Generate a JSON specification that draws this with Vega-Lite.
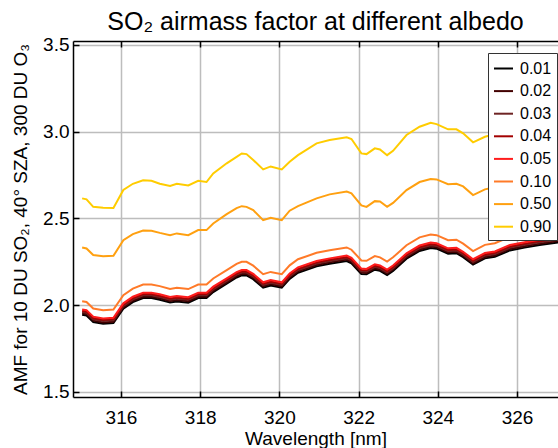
{
  "$schema": "https://vega.github.io/schema/vega-lite/v6.json",
  "width": 485,
  "height": 356,
  "autosize": {"type": "none"},
  "padding": {"left": 73, "top": 41, "right": 0, "bottom": 51},
  "background": "white",
  "title": {"text": "SO₂ airmass factor at different albedo", "fontSize": 25, "font": "Liberation Sans", "fontWeight": "normal", "color": "black", "anchor": "middle", "frame": "group", "baseline": "alphabetic", "offset": -19},
  "config": {
    "view": {"stroke": null},
    "font": "Liberation Sans",
    "axis": {
      "domainColor": "black", "domainWidth": 1.5,
      "tickColor": "black", "tickWidth": 1.5, "tickSize": -6,
      "gridColor": "#bdbdbd", "gridWidth": 1.5, "gridOpacity": 1,
      "labelFont": "Liberation Sans", "labelFontSize": 19, "labelColor": "black",
      "titleFont": "Liberation Sans", "titleFontSize": 19, "titleFontWeight": "normal", "titleColor": "black"
    }
  },
  "data": {"values": [
    {"w":315.02,"0.01":1.945,"0.02":1.953,"0.03":1.961,"0.04":1.968,"0.05":1.976,"0.10":2.023,"0.50":2.333,"0.90":2.616},
    {"w":315.13,"0.01":1.941,"0.02":1.949,"0.03":1.957,"0.04":1.964,"0.05":1.972,"0.10":2.019,"0.50":2.327,"0.90":2.610},
    {"w":315.30,"0.01":1.903,"0.02":1.911,"0.03":1.919,"0.04":1.926,"0.05":1.934,"0.10":1.981,"0.50":2.289,"0.90":2.567},
    {"w":315.55,"0.01":1.893,"0.02":1.901,"0.03":1.909,"0.04":1.916,"0.05":1.924,"0.10":1.971,"0.50":2.283,"0.90":2.562},
    {"w":315.81,"0.01":1.897,"0.02":1.905,"0.03":1.913,"0.04":1.920,"0.05":1.928,"0.10":1.975,"0.50":2.285,"0.90":2.560},
    {"w":316.06,"0.01":1.980,"0.02":1.988,"0.03":1.996,"0.04":2.003,"0.05":2.011,"0.10":2.058,"0.50":2.375,"0.90":2.664},
    {"w":316.30,"0.01":2.018,"0.02":2.026,"0.03":2.034,"0.04":2.041,"0.05":2.049,"0.10":2.096,"0.50":2.410,"0.90":2.700},
    {"w":316.56,"0.01":2.041,"0.02":2.049,"0.03":2.057,"0.04":2.064,"0.05":2.072,"0.10":2.119,"0.50":2.430,"0.90":2.720},
    {"w":316.77,"0.01":2.041,"0.02":2.049,"0.03":2.057,"0.04":2.064,"0.05":2.072,"0.10":2.119,"0.50":2.429,"0.90":2.717},
    {"w":316.98,"0.01":2.032,"0.02":2.040,"0.03":2.048,"0.04":2.055,"0.05":2.063,"0.10":2.110,"0.50":2.417,"0.90":2.700},
    {"w":317.24,"0.01":2.016,"0.02":2.024,"0.03":2.032,"0.04":2.039,"0.05":2.047,"0.10":2.094,"0.50":2.404,"0.90":2.688},
    {"w":317.41,"0.01":2.022,"0.02":2.030,"0.03":2.038,"0.04":2.045,"0.05":2.053,"0.10":2.100,"0.50":2.414,"0.90":2.700},
    {"w":317.70,"0.01":2.015,"0.02":2.023,"0.03":2.031,"0.04":2.038,"0.05":2.046,"0.10":2.093,"0.50":2.404,"0.90":2.690},
    {"w":317.95,"0.01":2.041,"0.02":2.049,"0.03":2.057,"0.04":2.064,"0.05":2.072,"0.10":2.119,"0.50":2.433,"0.90":2.717},
    {"w":318.16,"0.01":2.041,"0.02":2.049,"0.03":2.057,"0.04":2.064,"0.05":2.072,"0.10":2.119,"0.50":2.433,"0.90":2.710},
    {"w":318.33,"0.01":2.076,"0.02":2.084,"0.03":2.092,"0.04":2.099,"0.05":2.107,"0.10":2.154,"0.50":2.471,"0.90":2.760},
    {"w":318.67,"0.01":2.124,"0.02":2.132,"0.03":2.140,"0.04":2.147,"0.05":2.155,"0.10":2.202,"0.50":2.525,"0.90":2.818},
    {"w":318.92,"0.01":2.160,"0.02":2.168,"0.03":2.176,"0.04":2.183,"0.05":2.191,"0.10":2.238,"0.50":2.560,"0.90":2.855},
    {"w":319.05,"0.01":2.172,"0.02":2.180,"0.03":2.188,"0.04":2.195,"0.05":2.203,"0.10":2.250,"0.50":2.571,"0.90":2.875},
    {"w":319.17,"0.01":2.172,"0.02":2.180,"0.03":2.188,"0.04":2.195,"0.05":2.203,"0.10":2.250,"0.50":2.567,"0.90":2.871},
    {"w":319.34,"0.01":2.150,"0.02":2.158,"0.03":2.166,"0.04":2.173,"0.05":2.181,"0.10":2.228,"0.50":2.548,"0.90":2.837},
    {"w":319.59,"0.01":2.101,"0.02":2.109,"0.03":2.117,"0.04":2.124,"0.05":2.132,"0.10":2.179,"0.50":2.490,"0.90":2.783},
    {"w":319.78,"0.01":2.114,"0.02":2.122,"0.03":2.130,"0.04":2.137,"0.05":2.145,"0.10":2.192,"0.50":2.504,"0.90":2.800},
    {"w":320.06,"0.01":2.101,"0.02":2.109,"0.03":2.117,"0.04":2.124,"0.05":2.132,"0.10":2.179,"0.50":2.490,"0.90":2.783},
    {"w":320.26,"0.01":2.152,"0.02":2.160,"0.03":2.168,"0.04":2.175,"0.05":2.183,"0.10":2.230,"0.50":2.545,"0.90":2.827},
    {"w":320.47,"0.01":2.187,"0.02":2.195,"0.03":2.203,"0.04":2.210,"0.05":2.218,"0.10":2.265,"0.50":2.571,"0.90":2.865},
    {"w":320.94,"0.01":2.224,"0.02":2.232,"0.03":2.240,"0.04":2.247,"0.05":2.255,"0.10":2.302,"0.50":2.616,"0.90":2.933},
    {"w":321.27,"0.01":2.239,"0.02":2.247,"0.03":2.255,"0.04":2.262,"0.05":2.270,"0.10":2.317,"0.50":2.639,"0.90":2.952},
    {"w":321.70,"0.01":2.255,"0.02":2.263,"0.03":2.271,"0.04":2.278,"0.05":2.286,"0.10":2.333,"0.50":2.655,"0.90":2.968},
    {"w":321.82,"0.01":2.242,"0.02":2.250,"0.03":2.258,"0.04":2.265,"0.05":2.273,"0.10":2.320,"0.50":2.645,"0.90":2.958},
    {"w":322.07,"0.01":2.180,"0.02":2.188,"0.03":2.196,"0.04":2.203,"0.05":2.211,"0.10":2.258,"0.50":2.575,"0.90":2.875},
    {"w":322.20,"0.01":2.178,"0.02":2.186,"0.03":2.194,"0.04":2.201,"0.05":2.209,"0.10":2.256,"0.50":2.567,"0.90":2.871},
    {"w":322.41,"0.01":2.205,"0.02":2.213,"0.03":2.221,"0.04":2.228,"0.05":2.236,"0.10":2.283,"0.50":2.600,"0.90":2.904},
    {"w":322.54,"0.01":2.198,"0.02":2.206,"0.03":2.214,"0.04":2.221,"0.05":2.229,"0.10":2.276,"0.50":2.598,"0.90":2.898},
    {"w":322.72,"0.01":2.174,"0.02":2.182,"0.03":2.190,"0.04":2.197,"0.05":2.205,"0.10":2.252,"0.50":2.567,"0.90":2.865},
    {"w":322.87,"0.01":2.198,"0.02":2.206,"0.03":2.214,"0.04":2.221,"0.05":2.229,"0.10":2.276,"0.50":2.590,"0.90":2.890},
    {"w":323.21,"0.01":2.268,"0.02":2.276,"0.03":2.284,"0.04":2.291,"0.05":2.299,"0.10":2.346,"0.50":2.664,"0.90":2.981},
    {"w":323.54,"0.01":2.313,"0.02":2.321,"0.03":2.329,"0.04":2.336,"0.05":2.344,"0.10":2.391,"0.50":2.710,"0.90":3.029},
    {"w":323.82,"0.01":2.330,"0.02":2.338,"0.03":2.346,"0.04":2.353,"0.05":2.361,"0.10":2.408,"0.50":2.727,"0.90":3.052},
    {"w":323.97,"0.01":2.326,"0.02":2.334,"0.03":2.342,"0.04":2.349,"0.05":2.357,"0.10":2.404,"0.50":2.725,"0.90":3.044},
    {"w":324.26,"0.01":2.297,"0.02":2.305,"0.03":2.313,"0.04":2.320,"0.05":2.328,"0.10":2.375,"0.50":2.698,"0.90":3.014},
    {"w":324.47,"0.01":2.300,"0.02":2.308,"0.03":2.316,"0.04":2.323,"0.05":2.331,"0.10":2.378,"0.50":2.700,"0.90":3.014},
    {"w":324.64,"0.01":2.277,"0.02":2.285,"0.03":2.293,"0.04":2.300,"0.05":2.308,"0.10":2.355,"0.50":2.685,"0.90":2.991},
    {"w":324.89,"0.01":2.234,"0.02":2.242,"0.03":2.250,"0.04":2.257,"0.05":2.265,"0.10":2.312,"0.50":2.635,"0.90":2.939},
    {"w":325.19,"0.01":2.270,"0.02":2.278,"0.03":2.286,"0.04":2.293,"0.05":2.301,"0.10":2.348,"0.50":2.668,"0.90":2.971},
    {"w":325.44,"0.01":2.279,"0.02":2.287,"0.03":2.295,"0.04":2.302,"0.05":2.310,"0.10":2.357,"0.50":2.680,"0.90":2.985},
    {"w":325.82,"0.01":2.316,"0.02":2.324,"0.03":2.332,"0.04":2.339,"0.05":2.347,"0.10":2.394,"0.50":2.715,"0.90":3.020},
    {"w":326.19,"0.01":2.332,"0.02":2.340,"0.03":2.348,"0.04":2.355,"0.05":2.363,"0.10":2.410,"0.50":2.735,"0.90":3.045},
    {"w":326.57,"0.01":2.347,"0.02":2.355,"0.03":2.363,"0.04":2.370,"0.05":2.378,"0.10":2.425,"0.50":2.750,"0.90":3.065},
    {"w":327.05,"0.01":2.362,"0.02":2.370,"0.03":2.378,"0.04":2.385,"0.05":2.393,"0.10":2.440,"0.50":2.765,"0.90":3.080}
  ]},
  "transform": [
    {"fold": ["0\\.01", "0\\.02", "0\\.03", "0\\.04", "0\\.05", "0\\.10", "0\\.50", "0\\.90"], "as": ["albedo", "amf"]}
  ],
  "layer": [
    {
      "mark": {"type": "line", "strokeWidth": 2, "clip": true},
      "encoding": {
        "x": {"field": "w", "type": "quantitative",
          "scale": {"domain": [314.789, 327.035], "nice": false, "zero": false},
          "axis": {"orient": "bottom", "values": [316, 318, 320, 322, 324, 326], "title": "Wavelength [nm]", "grid": true, "labelPadding": 17, "titlePadding": 2}},
        "y": {"field": "amf", "type": "quantitative",
          "scale": {"domain": [1.471, 3.523], "nice": false, "zero": false},
          "axis": {"values": [1.5, 2, 2.5, 3, 3.5], "format": ".1f", "title": "AMF for 10 DU SO₂, 40° SZA, 300 DU O₃", "grid": true, "labelPadding": 10, "titlePadding": 12}},
        "color": {"field": "albedo", "type": "nominal",
          "scale": {"domain": ["0.01", "0.02", "0.03", "0.04", "0.05", "0.10", "0.50", "0.90"],
                    "range": ["#000000", "#420000", "#6e2424", "#a30000", "#ff1c1c", "#ff7a28", "#ffa010", "#ffcc00"]},
          "legend": {"orient": "none", "legendX": 415, "legendY": 12, "title": null,
            "strokeColor": "#333333", "fillColor": "white", "padding": 5,
            "labelFontSize": 16, "labelColor": "black", "labelFont": "Liberation Sans",
            "symbolType": "stroke", "symbolSize": 361, "symbolStrokeWidth": 2,
            "rowPadding": 3.6, "labelOffset": 6}}
      }
    },
    {
      "mark": {"type": "line", "opacity": 0},
      "encoding": {
        "x": {"field": "w", "type": "quantitative",
          "axis": {"orient": "top", "values": [316, 318, 320, 322, 324, 326], "labels": false, "title": null, "grid": false}}
      }
    }
  ],
  "resolve": {"axis": {"x": "independent"}}
}
